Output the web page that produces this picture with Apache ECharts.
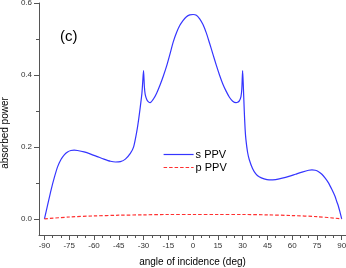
<!DOCTYPE html>
<html><head><meta charset="utf-8">
<script src="https://cdn.jsdelivr.net/npm/echarts@6/dist/echarts.min.js"></script>
<style>html,body{margin:0;padding:0;background:#fff}#c{width:346px;height:268px}</style>
</head><body><div id="c"></div>
<script>
var sAngles = [-90,-88,-86,-84,-82,-80,-78,-76,-74,-72,-70,-66,-62,-58,-54,-50,-47,-44,-41,-38,-36,-34,-33,-32,-31,-30.5,-30,-29.5,-29,-28,-27,-26,-24,-22,-20,-18,-16,-14,-12,-10,-8,-6,-4,-2,0,2,4,6,8,10,12,14,16,18,20,22,24,26,27,28,29,29.5,30,30.5,31,31.5,32,33,34,36,38,40,43,46,50,54,58,62,66,70,72,74,76,78,80,82,84,86,87,88,89,90];
var sValues = [0.000,0.040,0.080,0.115,0.145,0.165,0.178,0.186,0.190,0.191,0.190,0.186,0.180,0.173,0.166,0.160,0.158,0.159,0.166,0.182,0.200,0.245,0.275,0.310,0.348,0.380,0.412,0.368,0.346,0.331,0.325,0.323,0.333,0.350,0.372,0.397,0.425,0.458,0.492,0.518,0.538,0.552,0.562,0.567,0.568,0.566,0.556,0.540,0.517,0.488,0.458,0.428,0.400,0.375,0.355,0.338,0.327,0.323,0.324,0.328,0.340,0.360,0.412,0.360,0.300,0.250,0.220,0.185,0.165,0.140,0.125,0.117,0.111,0.108,0.109,0.113,0.118,0.124,0.130,0.135,0.136,0.135,0.131,0.124,0.113,0.100,0.082,0.062,0.048,0.035,0.018,0.000];
var pAngles = [-90,-75,-60,-45,-30,-15,0,15,30,45,60,75,90];
var pValues = [0.000,0.005,0.008,0.010,0.011,0.012,0.012,0.012,0.012,0.011,0.009,0.006,0.000];
var xMajorTicks = [-90,-75,-60,-45,-30,-15,0,15,30,45,60,75,90];
var xMinorTicks = [-85,-80,-70,-65,-55,-50,-40,-35,-25,-20,-10,-5,5,10,20,25,35,40,50,55,65,70,80,85];
var yMajorTicks = [0,0.2,0.4,0.6];
var yMinorTicks = [0.1,0.3,0.5];

function pairs(a, b){ return a.map(function(v,i){ return [v, b[i]]; }); }

var chart = echarts.init(document.getElementById('c'), null, {renderer:'canvas'});
var axisCol = '#555';
var ff = 'Liberation Sans, Arial, sans-serif';
var sColor = '#3535ff', pColor = '#ff3030';
chart.setOption({
  animation:false,
  title:{text:'(c)', left:55, top:24, textStyle:{fontFamily:ff, fontSize:15, fontWeight:'normal', color:'#000'}},
  legend:{
    orient:'vertical', left:158, top:144, itemGap:2, itemWidth:30, itemHeight:8,
    itemStyle:{opacity:0},
    textStyle:{fontFamily:ff, fontSize:11, color:'#000', padding:[0,0,0,-3]},
    data:[
      {name:'s PPV', lineStyle:{color:sColor, width:1.2}},
      {name:'p PPV', lineStyle:{color:pColor, width:1.2, type:[3.5,2]}}
    ]
  },
  grid:{left:39, right:0, top:3, bottom:33, containLabel:false, outerBoundsMode:'none'},
  xAxis:[{
    type:'value', min:-93.3, max:92.6, position:'bottom',
    name:'angle of incidence (deg)', nameLocation:'middle', nameGap:22,
    nameTextStyle:{fontFamily:ff, fontSize:10, color:'#000'},
    axisLine:{show:true, onZero:false, lineStyle:{color:axisCol, width:1}},
    axisTick:{show:true, customValues:xMajorTicks, length:5, lineStyle:{color:axisCol}},
    axisLabel:{show:true, customValues:xMajorTicks, margin:7, hideOverlap:false, formatter:function(v){return String(v);}, fontFamily:ff, fontSize:8, color:'#333'},
    splitLine:{show:false}
  },{
    type:'value', min:-93.3, max:92.6, position:'bottom',
    axisLine:{show:false, onZero:false},
    axisTick:{show:true, customValues:xMinorTicks, length:3, lineStyle:{color:axisCol}},
    axisLabel:{show:false},
    splitLine:{show:false}
  }],
  yAxis:[{
    type:'value', min:-0.045, max:0.6, position:'left',
    name:'absorbed power', nameLocation:'middle', nameGap:27,
    nameTextStyle:{fontFamily:ff, fontSize:10, color:'#000', padding:[0,28,0,0]},
    axisLine:{show:true, onZero:false, lineStyle:{color:axisCol, width:1}},
    axisTick:{show:true, customValues:yMajorTicks, length:5, lineStyle:{color:axisCol}},
    axisLabel:{show:true, customValues:yMajorTicks, margin:7, formatter:function(v){return v.toFixed(1);}, fontFamily:ff, fontSize:8, color:'#333'},
    splitLine:{show:false}
  },{
    type:'value', min:-0.045, max:0.6, position:'left',
    axisLine:{show:false, onZero:false},
    axisTick:{show:true, customValues:yMinorTicks, length:3, lineStyle:{color:axisCol}},
    axisLabel:{show:false},
    splitLine:{show:false}
  }],
  series:[{
    name:'s PPV', type:'line', xAxisIndex:0, yAxisIndex:0, symbol:'none', showSymbol:false, smooth:0.25,
    lineStyle:{color:sColor, width:1.2}, itemStyle:{color:sColor},
    data:pairs(sAngles, sValues)
  },{
    name:'p PPV', type:'line', xAxisIndex:0, yAxisIndex:0, symbol:'none', showSymbol:false, smooth:0.3,
    lineStyle:{color:pColor, width:1.2, type:[3.5,2]}, itemStyle:{color:pColor},
    data:pairs(pAngles, pValues)
  }]
});
</script></body></html>
